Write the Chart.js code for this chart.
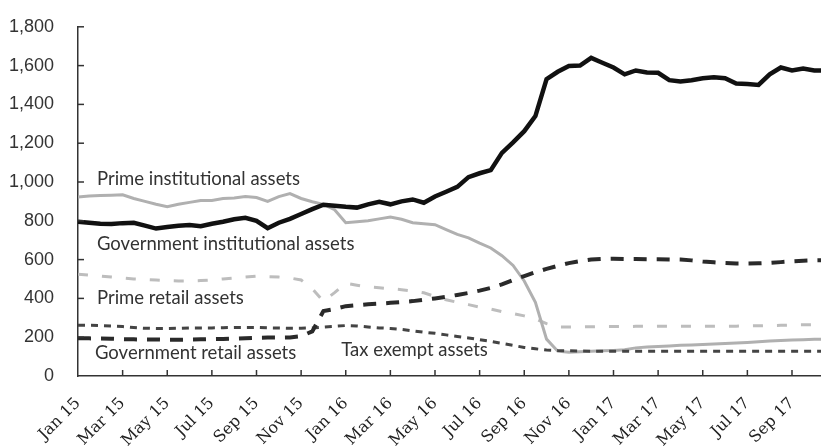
<!DOCTYPE html>
<html>
<head>
<meta charset="utf-8">
<script src="https://cdn.jsdelivr.net/npm/chart.js@4.4.1/dist/chart.umd.min.js"></script>
<style>
  html, body { margin: 0; padding: 0; background: #fff; }
  #wrap { width: 821px; height: 448px; position: relative; }
</style>
</head>
<body>
<div id="wrap"><canvas id="chart"></canvas></div>
<script>
// months since Jan 2015, half-month steps
const months = [];
for (let i = 0; i < 68; i++) months.push(i / 2);

const tickLabels = ['Jan 15','Mar 15','May 15','Jul 15','Sep 15','Nov 15',
  'Jan 16','Mar 16','May 16','Jul 16','Sep 16','Nov 16',
  'Jan 17','Mar 17','May 17','Jul 17','Sep 17'];

const govInst = [795,790,785,783,788,790,775,760,768,775,778,772,785,795,808,815,
  800,762,790,810,835,860,883,878,872,868,885,898,885,900,910,893,
  925,950,975,1025,1045,1061,1150,1204,1262,1340,1530,1568,1598,1600,1640,1615,
  1590,1555,1575,1565,1563,1525,1518,1525,1535,1540,1535,1508,1505,1500,1555,1590,
  1575,1585,1575,1575];

const primeInst = [923,928,930,932,934,915,900,885,872,885,895,905,905,915,918,925,
  920,900,925,940,915,898,885,857,790,795,800,810,820,808,790,785,
  780,755,730,712,685,660,620,570,490,380,190,128,122,125,128,130,
  132,135,145,150,152,155,158,160,162,165,168,170,173,176,180,183,
  185,187,189,190];

const primeRetail = [525,520,515,510,505,500,498,495,492,490,490,492,495,500,505,510,
  515,512,510,505,495,450,385,430,478,468,459,455,450,445,438,429,
  410,393,380,368,355,345,332,322,310,295,270,252,252,253,254,255,
  255,255,256,256,257,257,256,256,256,256,257,257,258,259,260,261,
  263,264,265,265];

const govRetail = [195,194,193,192,190,189,188,188,187,187,188,189,190,191,193,195,
  197,198,198,199,205,230,335,345,360,365,370,373,377,381,386,393,
  400,408,418,428,440,454,472,495,515,535,552,568,582,592,600,603,
  604,603,603,602,602,601,600,596,590,586,582,580,580,581,583,587,
  591,594,596,597];

const taxExempt = [262,262,260,258,255,250,246,245,245,246,248,248,248,249,250,250,
  250,248,247,246,246,248,252,256,260,258,253,248,245,240,233,226,
  220,212,204,196,187,178,168,158,147,140,134,131,130,129,128,128,
  128,128,128,128,128,128,128,128,128,128,128,128,128,128,128,128,
  128,128,128,128];

const seriesLabels = [
  { text: 'Prime institutional assets', x: 0.85, y: 1015 },
  { text: 'Government institutional assets', x: 0.85, y: 679 },
  { text: 'Prime retail assets', x: 0.85, y: 403 },
  { text: 'Government retail assets', x: 0.76, y: 117 },
  { text: 'Tax exempt assets', x: 11.8, y: 133 }
];

const pts = vals => vals.map((v, i) => ({ x: months[i], y: v }));

const decorPlugin = {
  id: 'decor',
  afterDatasetsDraw(chart) {
    const ctx = chart.ctx;
    const xs = chart.scales.x, ys = chart.scales.y;
    ctx.save();
    ctx.strokeStyle = '#333';
    ctx.lineWidth = 1.5;
    ys.ticks.forEach(t => {
      if (t.value === 0) return;
      const y = ys.getPixelForValue(t.value);
      ctx.beginPath(); ctx.moveTo(xs.left, y); ctx.lineTo(xs.left + 6, y); ctx.stroke();
    });
    xs.ticks.forEach(t => {
      if (t.value === 0) return;
      const x = xs.getPixelForValue(t.value);
      ctx.beginPath(); ctx.moveTo(x, ys.bottom); ctx.lineTo(x, ys.bottom - 6); ctx.stroke();
    });
    ctx.fillStyle = '#333';
    ctx.font = '18.5px Lato';
    ctx.textAlign = 'left';
    ctx.textBaseline = 'middle';
    seriesLabels.forEach(l => {
      ctx.fillText(l.text, xs.getPixelForValue(l.x), ys.getPixelForValue(l.y));
    });
    ctx.restore();
  }
};

new Chart(document.getElementById('chart'), {
  type: 'line',
  data: {
    datasets: [
      { label: 'Government institutional assets', data: pts(govInst),
        borderColor: '#111', borderWidth: 4.5 },
      { label: 'Government retail assets', data: pts(govRetail),
        borderColor: '#2a2a2a', borderWidth: 4, borderDash: [13, 10] },
      { label: 'Tax exempt assets', data: pts(taxExempt),
        borderColor: '#444', borderWidth: 3, borderDash: [7, 6] },
      { label: 'Prime institutional assets', data: pts(primeInst),
        borderColor: '#b0b0b0', borderWidth: 3 },
      { label: 'Prime retail assets', data: pts(primeRetail),
        borderColor: '#bdbdbd', borderWidth: 3, borderDash: [10, 14] }
    ]
  },
  options: {
    responsive: true,
    maintainAspectRatio: false,
    animation: false,
    layout: { padding: { top: 23, left: 0, right: 0, bottom: 0 } },
    elements: { point: { radius: 0 }, line: { tension: 0, fill: false } },
    plugins: { legend: { display: false }, tooltip: { enabled: false } },
    scales: {
      x: {
        type: 'linear',
        min: 0, max: 33.3,
        grid: { display: false },
        border: { display: true, color: '#333', width: 1.5 },
        ticks: {
          stepSize: 2,
          includeBounds: false,
          autoSkip: false,
          maxRotation: 45, minRotation: 45,
          padding: 10,
          color: '#222',
          font: { family: 'DejaVu Serif', size: 16 },
          callback: v => tickLabels[v / 2] || ''
        },
        afterFit: s => { s.height = 72; }
      },
      y: {
        min: 0, max: 1800,
        grid: { display: false },
        border: { display: true, color: '#333', width: 1.5 },
        ticks: {
          stepSize: 200,
          padding: 16,
          color: '#333',
          font: { family: 'Liberation Sans', size: 18 },
          callback: v => v.toLocaleString('en-US')
        },
        afterFit: s => { s.width = 78; }
      }
    }
  },
  plugins: [decorPlugin]
});
</script>
</body>
</html>
